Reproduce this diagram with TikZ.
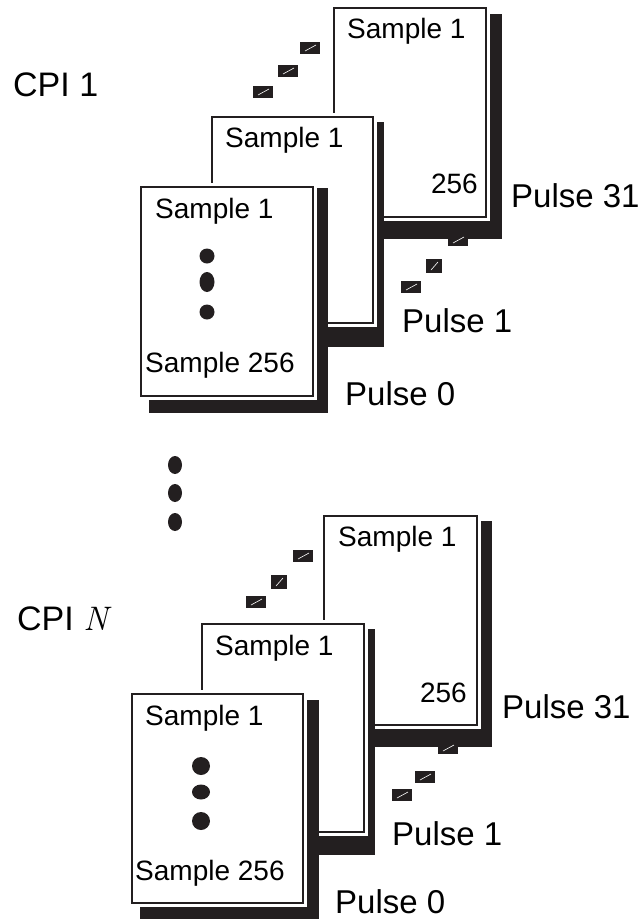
\documentclass[tikz,border=0pt]{standalone}
\usepackage{fontspec}
\setmainfont{Liberation Sans}
\newfontfamily\lmrfont{Latin Modern Roman}
\definecolor{ink}{HTML}{231F20}
\newcommand\pagebox[8]{%
  \fill[ink] ({#1+#5},{#2+#6}) rectangle ({#3+#7},{#4+#8});
  \draw[pagehalo] (#1,#2) rectangle (#3,#4);
  \draw[pageborder] (#1,#2) rectangle (#3,#4);
}
\tikzset{
  pagehalo/.style={draw=white, fill=white, line width=8pt},
  pageborder/.style={draw=ink, line width=2.6pt},
  smp/.style={anchor=base west, inner sep=0pt, font=\fontsize{28}{30}\selectfont},
  smpr/.style={anchor=base east, inner sep=0pt, font=\fontsize{28}{30}\selectfont},
  pls/.style={anchor=base west, inner sep=0pt, font=\fontsize{33}{35}\selectfont},
  cpi/.style={anchor=base west, inner sep=0pt, font=\fontsize{34}{36}\selectfont},
  glyph/.style={rectangle, minimum width=18pt, minimum height=10pt, inner sep=0pt,
    fill=ink, draw=ink, line width=2pt,
    path picture={\draw[white, line width=0.6pt]
      ([xshift=4pt,yshift=2pt]path picture bounding box.south west) --
      ([xshift=-3pt,yshift=-2pt]path picture bounding box.north east);}},
  dot/.style={fill=ink}
}
\begin{document}
\begin{tikzpicture}[x=1pt,y=-1pt]
\useasboundingbox (0,0) rectangle (639,919);
% ---------- CPI 1 ----------
\node[cpi] (cpi1) at (13,96) {CPI 1};
\pagebox{334}{8}{486}{217}{8}{6}{16}{22}
\pagebox{212}{117}{373}{323}{8}{5}{11}{24}
\pagebox{141}{187}{313}{396}{8}{1}{15}{17}
\node[smp] (a31s) at (347,38) {Sample 1};
\node[smpr] (a31e) at (478,193) {256};
\node[smp] (a1s) at (225,147) {Sample 1};
\node[smp] (a0s) at (155,218) {Sample 1};
\node[smp] (a0e) at (145,372) {Sample 256};
\fill[dot] (207,256) circle (7.5);
\fill[dot] (207,282) ellipse (7.5 and 10);
\fill[dot] (207,312) circle (7.5);
\node[pls] (ap31) at (511,207) {Pulse 31};
\node[pls] (ap1) at (402,332) {Pulse 1};
\node[pls] (ap0) at (345,405) {Pulse 0};
\node[glyph] (g1) at (310,48) {};
\node[glyph] (g2) at (288,71) {};
\node[glyph] (g3) at (263,92) {};
\node[glyph] (g4) at (458,240) {};
\node[glyph, minimum width=14pt, minimum height=12pt] (g5) at (434,266) {};
\node[glyph] (g6) at (411,287) {};
% ---------- dots between ----------
\fill[dot] (175,465) ellipse (7 and 9);
\fill[dot] (175,493) ellipse (7 and 9);
\fill[dot] (175,522) ellipse (7 and 9);
% ---------- CPI N ----------
\node[cpi] (cpin) at (17,630) {CPI {\lmrfont\itshape N}};
\pagebox{324}{516}{477}{725}{8}{5}{15}{22}
\pagebox{202}{624}{364}{832}{8}{5}{11}{23}
\pagebox{132}{694}{303}{903}{8}{6}{16}{16}
\node[smp] (b31s) at (338,546) {Sample 1};
\node[smpr] (b31e) at (467,702) {256};
\node[smp] (b1s) at (215,655) {Sample 1};
\node[smp] (b0s) at (145,725) {Sample 1};
\node[smp] (b0e) at (135,880) {Sample 256};
\fill[dot] (201,766) circle (9);
\fill[dot] (201,792) ellipse (9 and 7.5);
\fill[dot] (201,821) circle (9);
\node[pls] (bp31) at (502,718) {Pulse 31};
\node[pls] (bp1) at (392,845) {Pulse 1};
\node[pls] (bp0) at (335,913) {Pulse 0};
\node[glyph] (g7) at (303,556) {};
\node[glyph, minimum width=14pt, minimum height=12pt] (g8) at (279,582) {};
\node[glyph] (g9) at (256,602) {};
\node[glyph] (g10) at (448,748) {};
\node[glyph] (g11) at (425,777) {};
\node[glyph] (g12) at (402,795) {};
\end{tikzpicture}
\end{document}
